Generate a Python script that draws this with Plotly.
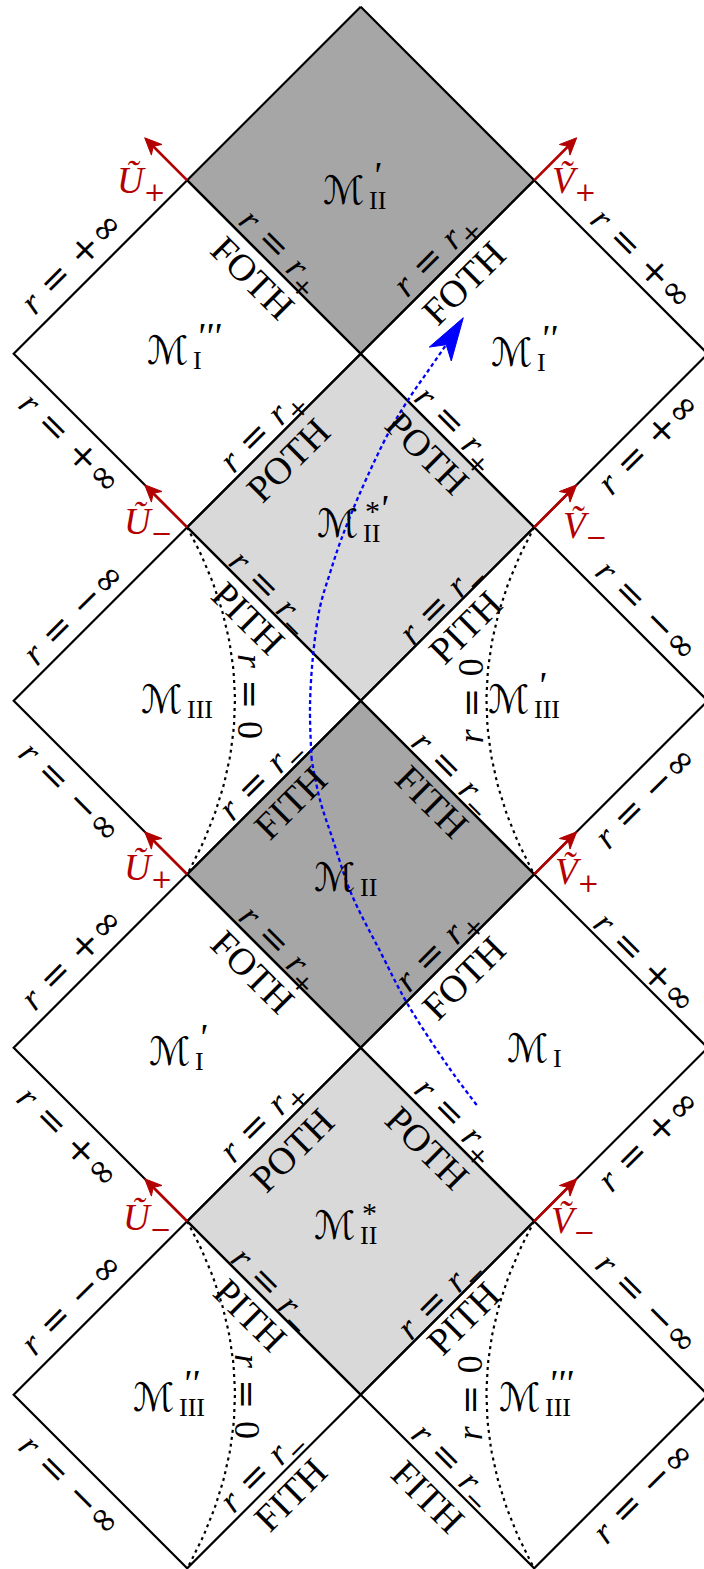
import math
import plotly.graph_objects as go

# ---------------- data ----------------
# Penrose-diagram lattice: vertex (i, j), j grows downward
ORIGIN_X, ORIGIN_Y, CELL = 360.7, 6.8, 173.5
CANVAS_W, CANVAS_H = 704, 1569

# regions (diamonds) : centre vertex, shading, label pieces
region_i = [0, -1, 1, 0, -1, 1, 0, -1, 1, 0, -1, 1]
region_j = [1, 2, 2, 3, 4, 4, 5, 6, 6, 7, 8, 8]
region_fill = ["dark", "white", "white", "light", "white", "white",
               "dark", "white", "white", "light", "white", "white"]
region_sub = ["II", "I", "I", "II", "III", "III", "II", "I", "I", "II", "III", "III"]
region_star = [False, False, False, True, False, False, False, False, False, True, False, False]
region_primes = [1, 3, 2, 1, 0, 1, 0, 1, 0, 0, 2, 3]

# edge labels: (i1, j1, i2, j2, text key)
edge_labels = [
    (-1, 1, 0, 2, "rp"), (-1, 1, 0, 2, "FOTH"),
    (0, 2, 1, 1, "rp"), (0, 2, 1, 1, "FOTH"),
    (-1, 1, -2, 2, "pinf"), (-2, 2, -1, 3, "pinf"),
    (-1, 3, 0, 2, "rp"), (-1, 3, 0, 2, "POTH"),
    (1, 1, 2, 2, "pinf"), (2, 2, 1, 3, "pinf"),
    (0, 2, 1, 3, "rp"), (0, 2, 1, 3, "POTH"),
    (-1, 3, 0, 4, "rm"), (-1, 3, 0, 4, "PITH"),
    (0, 4, 1, 3, "rm"), (0, 4, 1, 3, "PITH"),
    (-1, 3, -2, 4, "minf"), (-2, 4, -1, 5, "minf"),
    (-1, 5, 0, 4, "rm"), (-1, 5, 0, 4, "FITH"),
    (1, 3, 2, 4, "minf"), (2, 4, 1, 5, "minf"),
    (0, 4, 1, 5, "rm"), (0, 4, 1, 5, "FITH"),
    (-1, 5, 0, 6, "rp"), (-1, 5, 0, 6, "FOTH"),
    (0, 6, 1, 5, "rp"), (0, 6, 1, 5, "FOTH"),
    (-1, 5, -2, 6, "pinf"), (-2, 6, -1, 7, "pinf"),
    (-1, 7, 0, 6, "rp"), (-1, 7, 0, 6, "POTH"),
    (1, 5, 2, 6, "pinf"), (2, 6, 1, 7, "pinf"),
    (0, 6, 1, 7, "rp"), (0, 6, 1, 7, "POTH"),
    (-1, 7, 0, 8, "rm"), (-1, 7, 0, 8, "PITH"),
    (0, 8, 1, 7, "rm"), (0, 8, 1, 7, "PITH"),
    (-1, 7, -2, 8, "minf"), (-2, 8, -1, 9, "minf"),
    (-1, 9, 0, 8, "rm"), (-1, 9, 0, 8, "FITH"),
    (1, 7, 2, 8, "minf"), (2, 8, 1, 9, "minf"),
    (0, 8, 1, 9, "rm"), (0, 8, 1, 9, "FITH"),
]


def op(s):
    return '<span style="font-family:DejaVu Serif">' + s + '</span>'


label_text = {
    "rp": "<i>r</i>" + op(" = ") + "<i>r</i><sub>" + op("+") + "</sub>",
    "rm": "<i>r</i>" + op(" = ") + "<i>r</i><sub>" + op("−") + "</sub>",
    "pinf": "<i>r</i>" + op(" = +∞"),
    "minf": "<i>r</i>" + op(" = −∞"),
    "FOTH": "FOTH", "POTH": "POTH", "PITH": "PITH", "FITH": "FITH",
}
horizon_names = {"FOTH", "POTH", "PITH", "FITH"}

# null coordinate arrows (U~, V~) at lattice vertices
arrow_i = [-1, 1, -1, 1, -1, 1, -1, 1]
arrow_j = [1, 1, 3, 3, 5, 5, 7, 7]
arrow_name = ["Ũ", "Ṽ", "Ũ", "Ṽ", "Ũ", "Ṽ", "Ũ", "Ṽ"]
arrow_sign = ["+", "+", "−", "−", "+", "+", "−", "−"]

# r = 0 singularities: vertical pairs of vertices, bulge side
r0_i = [-1, 1, -1, 1]
r0_j_start = [3, 3, 7, 7]
r0_side = [1, -1, 1, -1]

# observer trajectory (canvas units), lower part and upper part
traj_low_x = [476.7, 448.5, 407, 381, 351, 333, 320, 311.7]
traj_low_y = [1105, 1067, 1003, 953, 893, 840, 800, 760]
traj_up_x = [311.7, 310, 313.3, 320, 330, 341, 360, 390, 410, 428, 446]
traj_up_y = [760, 707, 653, 607, 573, 540, 493, 430, 397, 371, 345]
traj_tip = (463.3, 317.7)

# ---------------- layout / style (not data) ----------------
region_nudge_x = [6, 4, 1, 0, -2, -2, -3, 6, 17, -3, -10, 9]
region_nudge_y = [10, -3, -1, -4, -1, -1, 3, 4, 1, 4, 3, 3]
edge_label_shift = [
    (6, -15), (-21, 11), (-11, -12), (16, 16), (-30, -5), (-30, 2),
    (-11, -9), (14, 19), (22, -9), (27, 2), (8, -11), (-20, 12),
    (-4, -21), (-26, 4), (-5, -11), (18, 13), (-28, -1), (-30, 4),
    (-12, -8), (16, 15), (27, -4), (24, 9), (5, -13), (-15, 14),
    (6, -13), (-21, 11), (-9, -11), (16, 17), (-30, -3), (-32, 2),
    (-11, -13), (18, 15), (25, 1), (27, 5), (8, -13), (-20, 13),
    (-2, -18), (-24, 7), (-7, -10), (16, 10), (-30, -5), (-30, 3),
    (-11, -10), (16, 13), (27, -5), (22, 10), (5, -15), (-19, 15),
]
arrow_label_shift = [(-46, 3), (40, 3), (-39, -3), (51, 1), (-39, -4), (43, 0), (-40, -1), (39, 2)]
r0_label_shift = [(15, -4), (-16, 0), (12, 2), (-17, 3)]

FILL = {"dark": "#a6a6a6", "light": "#d9d9d9"}
RED = "#b30000"
BLUE = "#0000ff"
SERIF = "Liberation Serif, DejaVu Serif, serif"
SCRIPT = "DejaVu Serif, DejaVu Sans, serif"
FS = 36


def P(i, j):
    return ORIGIN_X + i * CELL, ORIGIN_Y + j * CELL


fig = go.Figure()
annotations = []


def ann(x, y, text, size=FS, color="black", angle=0, xanchor="center", xshift=0, yshift=0, family=SERIF):
    annotations.append(dict(x=x, y=y, xref="x", yref="y", text=text, showarrow=False,
                            textangle=angle, xanchor=xanchor, yanchor="middle",
                            xshift=xshift, yshift=yshift,
                            font=dict(family=family, size=size, color=color)))


def diamond(i, j):
    pts = [P(i, j - 1), P(i - 1, j), P(i, j + 1), P(i + 1, j), P(i, j - 1)]
    return [p[0] for p in pts], [p[1] for p in pts]


# fills
for k in range(len(region_i)):
    if region_fill[k] == "white":
        continue
    xs, ys = diamond(region_i[k], region_j[k])
    fig.add_trace(go.Scatter(x=xs, y=ys, mode="lines", fill="toself",
                             fillcolor=FILL[region_fill[k]], line=dict(width=0),
                             hoverinfo="skip", showlegend=False))


# r = 0 dotted curves (quadratic Bezier)
def bezier(p0, c, p1, n=60):
    xs, ys = [], []
    for m in range(n + 1):
        t = m / n
        xs.append((1 - t) ** 2 * p0[0] + 2 * t * (1 - t) * c[0] + t * t * p1[0])
        ys.append((1 - t) ** 2 * p0[1] + 2 * t * (1 - t) * c[1] + t * t * p1[1])
    return xs, ys


BULGE = 0.55 * CELL
for k in range(len(r0_i)):
    p0 = P(r0_i[k], r0_j_start[k])
    p1 = P(r0_i[k], r0_j_start[k] + 2)
    c = (p0[0] + r0_side[k] * BULGE, (p0[1] + p1[1]) / 2)
    xs, ys = bezier(p0, c, p1)
    fig.add_trace(go.Scatter(x=xs, y=ys, mode="lines",
                             line=dict(color="black", width=2.2, dash="3px,4px"),
                             hoverinfo="skip", showlegend=False))
    mx, my = xs[len(xs) // 2], ys[len(ys) // 2]
    ann(mx, my, "<i>r</i>" + op(" = ") + "0", angle=90 * r0_side[k],
        xshift=r0_label_shift[k][0], yshift=-r0_label_shift[k][1])

# outlines
ox, oy = [], []
for k in range(len(region_i)):
    xs, ys = diamond(region_i[k], region_j[k])
    ox += xs + [None]
    oy += ys + [None]
fig.add_trace(go.Scatter(x=ox, y=oy, mode="lines", line=dict(color="black", width=2.2),
                         hoverinfo="skip", showlegend=False))


def head(tip, ux, uy, length, half_w, notch):
    nx, ny = -uy, ux
    bx, by = tip[0] - length * ux, tip[1] - length * uy
    return ([tip[0], bx + half_w * nx, tip[0] - (length - notch) * ux, bx - half_w * nx, tip[0]],
            [tip[1], by + half_w * ny, tip[1] - (length - notch) * uy, by - half_w * ny, tip[1]])


# red null-coordinate arrows
ARROW_LEN = 0.245 * CELL
for k in range(len(arrow_i)):
    vx, vy = P(arrow_i[k], arrow_j[k])
    sx = -1 if arrow_name[k] == "Ũ" else 1
    ux, uy = sx / math.sqrt(2), -1 / math.sqrt(2)
    tip = (vx + sx * ARROW_LEN, vy - ARROW_LEN)
    L, hw, nt = 17, 7.5, 5
    fig.add_trace(go.Scatter(x=[vx, tip[0] - (L - nt) * ux], y=[vy, tip[1] - (L - nt) * uy],
                             mode="lines", line=dict(color=RED, width=2.6),
                             hoverinfo="skip", showlegend=False))
    hx, hy = head(tip, ux, uy, L, hw, nt)
    fig.add_trace(go.Scatter(x=hx, y=hy, mode="lines", fill="toself", fillcolor=RED,
                             line=dict(color=RED, width=1), hoverinfo="skip", showlegend=False))
    ann(vx, vy, "<i>" + arrow_name[k] + "</i><sub>" + op(arrow_sign[k]) + "</sub>",
        size=37, color=RED, xshift=arrow_label_shift[k][0], yshift=-arrow_label_shift[k][1])

# observer trajectory
for xs, ys in [(traj_low_x, traj_low_y), (traj_up_x, traj_up_y)]:
    fig.add_trace(go.Scatter(x=xs, y=ys, mode="lines",
                             line=dict(color=BLUE, width=2.3, dash="4px,3px", shape="spline", smoothing=1.0),
                             hoverinfo="skip", showlegend=False))
dx, dy = traj_tip[0] - traj_up_x[-1], traj_tip[1] - traj_up_y[-1]
dl = math.hypot(dx, dy)
hx, hy = head(traj_tip, dx / dl, dy / dl, 43, 13, 11)
fig.add_trace(go.Scatter(x=hx, y=hy, mode="lines", fill="toself", fillcolor=BLUE,
                         line=dict(color=BLUE, width=1), hoverinfo="skip", showlegend=False))

# edge labels
for k, (i1, j1, i2, j2, key) in enumerate(edge_labels):
    a, b = P(i1, j1), P(i2, j2)
    mx, my = (a[0] + b[0]) / 2, (a[1] + b[1]) / 2
    angle = 45 if (i2 - i1) * (j2 - j1) > 0 else -45
    ann(mx, my, label_text[key], angle=angle, size=38 if key in horizon_names else FS,
        xshift=edge_label_shift[k][0], yshift=-edge_label_shift[k][1])

# region labels
for k in range(len(region_i)):
    cx, cy = P(region_i[k], region_j[k])
    mx, my = cx + region_nudge_x[k], cy + region_nudge_y[k]
    ann(mx, my, "ℳ", size=39, xanchor="right", family=SCRIPT)
    ann(mx, my, region_sub[k], size=26, xanchor="left", yshift=-10)
    if region_star[k]:
        ann(mx, my, "*", size=30, xanchor="left", xshift=2, yshift=13)
    if region_primes[k]:
        ann(mx, my, "<i>'</i>" * region_primes[k], size=38, xanchor="left",
            xshift=16 if region_star[k] else 3, yshift=15)

fig.update_layout(
    width=CANVAS_W, height=CANVAS_H, autosize=False,
    margin=dict(l=0, r=0, t=0, b=0, pad=0),
    paper_bgcolor="white", plot_bgcolor="white",
    xaxis=dict(range=[0, CANVAS_W], visible=False, fixedrange=True),
    yaxis=dict(range=[CANVAS_H, 0], visible=False, fixedrange=True),
    annotations=annotations, showlegend=False,
)

fig.write_html("out.html", config={"displayModeBar": False},
               post_script="document.body.style.margin='0';document.body.style.overflow='hidden';")
